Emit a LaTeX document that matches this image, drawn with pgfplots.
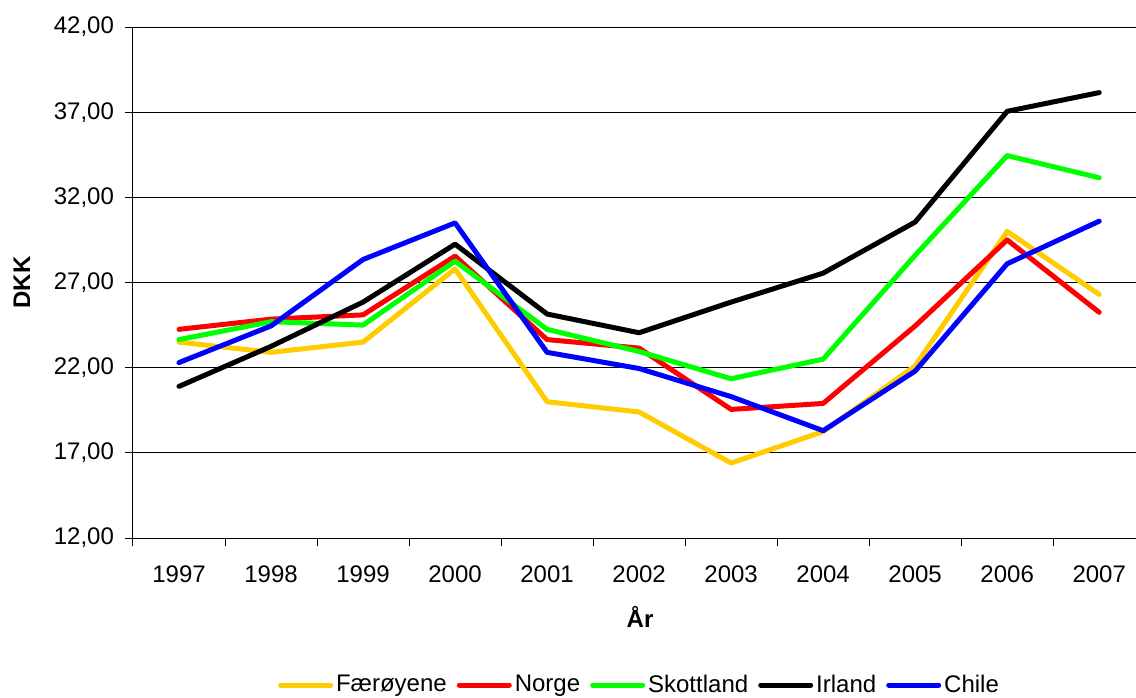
\documentclass[border=0pt]{standalone}
\usepackage{fontspec}
\setmainfont{Liberation Sans}
\usepackage{pgfplots}
\pgfplotsset{compat=1.18}
\definecolor{cyel}{HTML}{FFCC00}
\definecolor{cred}{HTML}{FF0000}
\definecolor{cgrn}{HTML}{00FF00}
\definecolor{cblu}{HTML}{0000FF}
\begin{document}
\begin{tikzpicture}
\begin{axis}[
  scale only axis,
  width=501.5pt, height=255.5pt,
  at={(0,0)}, anchor=south west,
  xmin=-0.5, xmax=10.4,
  ymin=12, ymax=42,
  axis x line=bottom, axis y line=left,
  axis line style={-, black, line width=0.5pt},
  ytick={12,17,22,27,32,37,42},
  xtick={0,...,10},
  xticklabels={1997,1998,1999,2000,2001,2002,2003,2004,2005,2006,2007},
  minor xtick={-0.5,0.5,...,9.5},
  tick align=outside,
  major tick length=4pt, minor tick length=4pt,
  tick style={black, line width=0.5pt},
  major x tick style={draw=none},
  ymajorgrids=true,
  grid style={black, line width=0.5pt},
  tick label style={font=\fontsize{12}{14}\selectfont},
  /pgf/number format/assume math mode=true,
  yticklabel={\pgfmathprintnumber[fixed, fixed zerofill, precision=2, use comma]{\tick}},
  xticklabel style={yshift=-6.5pt},
  yticklabel style={xshift=-2pt},
  xlabel={\textbf{År}},
  ylabel={\textbf{DKK}},
  label style={font=\fontsize{12}{14}\selectfont},
  xlabel style={at={(axis description cs:0.5055,0)}, anchor=center, yshift=-39.5pt},
  ylabel style={at={(axis description cs:-0.1107,0.5)}, anchor=center},
  legend columns=5,
  legend style={draw=none, fill=none, at={(axis description cs:0.5055,-0.2877)}, anchor=center,
    font=\fontsize{12}{14}\selectfont, inner sep=0pt,
    /tikz/every even column/.append style={column sep=3.5pt},
    /tikz/every odd column/.append style={column sep=0pt},
    nodes={inner sep=1.5pt}},
  legend image code/.code={\draw[#1, line cap=round] (0pt,0pt) -- (25pt,0pt);},
  every axis plot/.append style={line width=2.5pt, line join=round, line cap=round},
]
\addplot[cyel] coordinates {(0,23.5) (1,22.9) (2,23.5) (3,27.8) (4,20.0) (5,19.4) (6,16.4) (7,18.25) (8,22.1) (9,30.0) (10,26.3)};
\addlegendentry{Færøyene}
\addplot[cred] coordinates {(0,24.25) (1,24.85) (2,25.1) (3,28.55) (4,23.65) (5,23.15) (6,19.55) (7,19.9) (8,24.45) (9,29.5) (10,25.25)};
\addlegendentry{Norge}
\addplot[cgrn] coordinates {(0,23.65) (1,24.7) (2,24.5) (3,28.25) (4,24.25) (5,22.95) (6,21.35) (7,22.5) (8,28.6) (9,34.45) (10,33.15)};
\addlegendentry{Skottland}
\addplot[black] coordinates {(0,20.9) (1,23.25) (2,25.85) (3,29.25) (4,25.15) (5,24.05) (6,25.85) (7,27.55) (8,30.55) (9,37.05) (10,38.15)};
\addlegendentry{Irland}
\addplot[cblu] coordinates {(0,22.3) (1,24.45) (2,28.35) (3,30.5) (4,22.9) (5,21.95) (6,20.3) (7,18.3) (8,21.8) (9,28.1) (10,30.6)};
\addlegendentry{Chile}
\end{axis}
\pgfresetboundingbox
\path[use as bounding box] (-66.5pt,-79.5pt) rectangle (501.5pt,269pt);
\end{tikzpicture}
\end{document}
